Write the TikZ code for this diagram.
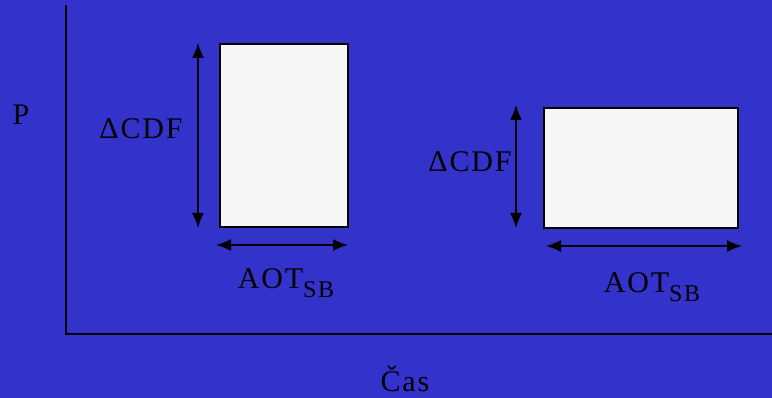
\documentclass[tikz,border=0pt]{standalone}
\usepackage{fontspec}
\setmainfont{Liberation Serif}
\usetikzlibrary{arrows.meta}
\definecolor{bgblue}{RGB}{51,51,204}
\definecolor{boxfill}{RGB}{247,247,247}
\newcommand{\sbsub}{\raisebox{-0.3em}{\fontsize{24}{26}\selectfont\addfontfeatures{LetterSpace=6}SB}}
\tikzset{
  lbl/.style={font=\fontsize{30}{34}\selectfont\addfontfeatures{LetterSpace=6}, text=black, inner sep=0pt},
  axis/.style={draw=black, line width=1.5pt},
  bar/.style={draw=black, line width=1.8pt, fill=boxfill},
  dim/.style={draw=black, line width=1.5pt, {Latex[length=15pt,width=12pt]}-{Latex[length=15pt,width=12pt]}}
}
\begin{document}
\begin{tikzpicture}[x=1pt,y=-1pt]
\fill[bgblue] (0,0) rectangle (772,398);
\useasboundingbox (0,0) rectangle (772,398);
% axes
\coordinate (ytop) at (66,5);
\coordinate (origin) at (66,334);
\coordinate (xend) at (772,334);
\draw[axis] (ytop) -- (origin) -- (xend);
\node[lbl] (P) at (21,115) {P};
\node[lbl] (cas) at (405,379) {Čas};
% box 1
\node[bar, minimum width=128pt, minimum height=183pt, inner sep=0pt] (b1) at (284,135.5) {};
\coordinate (v1t) at (198,43);
\coordinate (v1b) at (198,228);
\draw[dim] (v1t) -- (v1b);
\coordinate (h1l) at (216,245);
\coordinate (h1r) at (348,245);
\draw[dim] (h1l) -- (h1r);
\node[lbl] (cdf1) at (141,129) {ΔCDF};
\node[lbl] (aot1) at (286,283) {AOT\sbsub};
% box 2
\node[bar, minimum width=194pt, minimum height=120pt, inner sep=0pt] (b2) at (641,168) {};
\coordinate (v2t) at (516,105);
\coordinate (v2b) at (516,228);
\draw[dim] (v2t) -- (v2b);
\coordinate (h2l) at (546,246);
\coordinate (h2r) at (742,246);
\draw[dim] (h2l) -- (h2r);
\node[lbl] (cdf2) at (470,162) {ΔCDF};
\node[lbl] (aot2) at (652,287) {AOT\sbsub};
\end{tikzpicture}
\end{document}
